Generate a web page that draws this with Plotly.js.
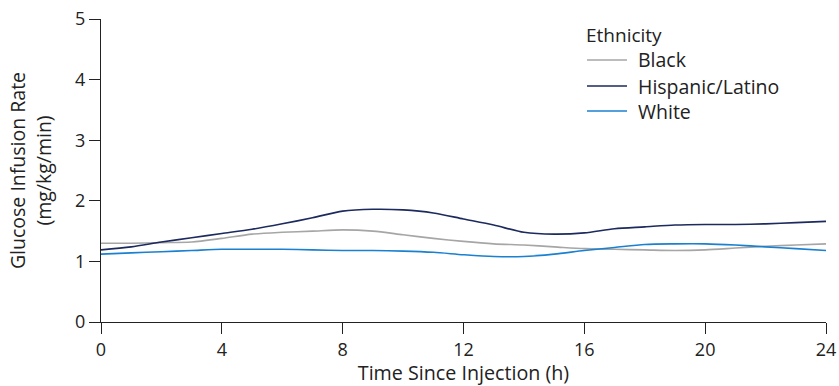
<!DOCTYPE html>
<html><head><meta charset="utf-8">
<script src="https://cdn.plot.ly/plotly-3.0.1.min.js"></script>
<style>html,body{margin:0;padding:0;background:#fff}#chart{width:839px;height:386px}</style>
</head><body><div id="chart"></div>
<script>
const hours = [0,1,2,3,4,5,6,7,8,9,10,11,12,13,14,15,16,17,18,19,20,21,22,23,24];
const black = [1.30,1.30,1.31,1.32,1.38,1.45,1.48,1.50,1.52,1.50,1.44,1.38,1.33,1.29,1.27,1.24,1.21,1.20,1.19,1.18,1.19,1.22,1.25,1.27,1.29];
const hispanic = [1.19,1.24,1.32,1.39,1.46,1.53,1.62,1.72,1.83,1.86,1.85,1.80,1.70,1.60,1.48,1.45,1.47,1.54,1.57,1.60,1.61,1.61,1.62,1.64,1.66];
const white = [1.12,1.14,1.16,1.18,1.20,1.20,1.20,1.19,1.18,1.18,1.17,1.15,1.11,1.08,1.08,1.12,1.18,1.23,1.28,1.29,1.29,1.27,1.24,1.21,1.18];
const seriesNames = ['Black','Hispanic/Latino','White'];
const legendTitle = 'Ethnicity';
const xTicks = [0,4,8,12,16,20,24];
const yTicks = [0,1,2,3,4,5];

const FONT = '"Open Sans", sans-serif';
const colors = ['#a6a6a6','#1c2a5e','#1a80d0'];
const data = [black, hispanic, white].map((ys,i)=>({
  x: hours, y: ys, name: seriesNames[i], type:'scatter', mode:'lines', showlegend:false,
  line:{color:colors[i], width:1.6, shape:'spline', smoothing:0.8}
}));

// plot area geometry (pixels) for placing the legend in paper coordinates
const M = {l:101, r:13, t:19, b:64}, W = 839, H = 386;
const pw = W - M.l - M.r, ph = H - M.t - M.b;
const px = v => (v - M.l) / pw;
const py = v => (H - M.b - v) / ph;

const annotations = [{xref:'paper', yref:'paper', x:px(584), y:py(35), xanchor:'left', yanchor:'middle',
  text:legendTitle, showarrow:false, font:{size:19}}];
const shapes = [
  {type:'line', xref:'x', yref:'y', xsizemode:'pixel', xanchor:0, x0:-11, x1:0, y0:0, y1:0, line:{color:'#222', width:1}},
  {type:'line', xref:'x', yref:'y', ysizemode:'pixel', yanchor:0, y0:-11, y1:0, x0:0, x1:0, line:{color:'#222', width:1}}
];
const rowY = [60, 86, 111];
seriesNames.forEach((n,i)=>{
  shapes.push({type:'line', xref:'paper', yref:'paper', x0:px(587), x1:px(627), y0:py(rowY[i]), y1:py(rowY[i]),
    line:{color:colors[i], width:1.6}});
  annotations.push({xref:'paper', yref:'paper', x:px(636), y:py(rowY[i]), xanchor:'left', yanchor:'middle',
    text:n, showarrow:false, font:{size:19.5}});
});

const layout = {
  width:W, height:H,
  margin:M,
  paper_bgcolor:'#fff', plot_bgcolor:'#fff',
  font:{family:FONT, size:17, color:'#222'},
  xaxis:{range:[0,24], tickvals:xTicks, ticktext:xTicks.map(String), ticks:'outside', ticklen:11, tickcolor:'#222',
    tickfont:{size:18},
    showline:true, linecolor:'#222', linewidth:1, showgrid:false, zeroline:false,
    title:{text:'Time Since Injection (h)', font:{size:19.7}, standoff:13}},
  yaxis:{range:[0,5], tickvals:yTicks, ticktext:yTicks.map(String), ticks:'outside', ticklen:11, tickcolor:'#222',
    tickfont:{size:18},
    showline:true, linecolor:'#222', linewidth:1, showgrid:false, zeroline:false,
    title:{text:'Glucose Infusion Rate<br>(mg/kg/min)', font:{size:19.5}, standoff:18}},
  showlegend:false,
  annotations:annotations,
  shapes:shapes
};
Plotly.newPlot('chart', data, layout, {displayModeBar:false, staticPlot:true});
</script></body></html>
